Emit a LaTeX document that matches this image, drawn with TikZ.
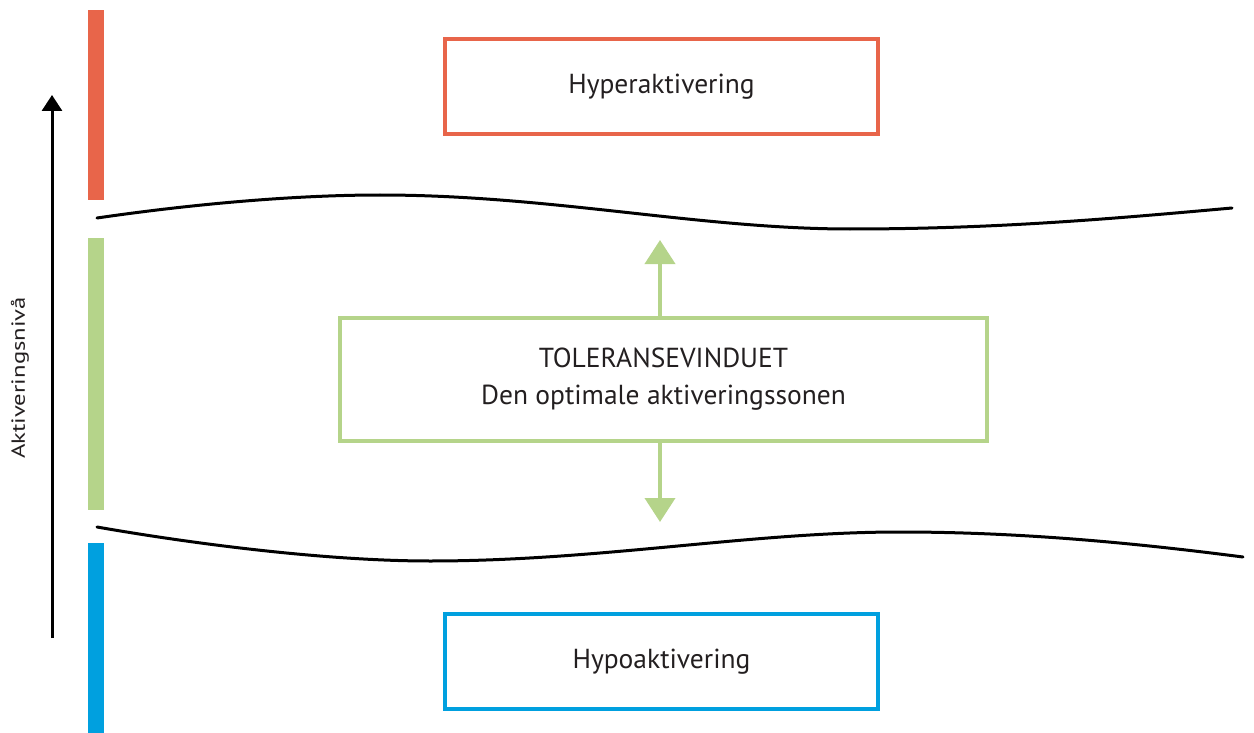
\documentclass[tikz,border=0pt]{standalone}
\usepackage{fontspec}
\usepackage{graphicx}
\setmainfont{PT Sans}
\usetikzlibrary{arrows.meta}
\definecolor{hyperred}{HTML}{E8654A}
\definecolor{tolgreen}{HTML}{B5D48A}
\definecolor{hypoblue}{HTML}{00A0DF}
\definecolor{txt}{HTML}{231F20}
\tikzset{
  zonebox/.style={draw, line width=4pt, minimum width=433pt, minimum height=95pt, text=txt, font=\fontsize{27.5}{33}\selectfont, inner sep=0pt},
  bar/.style={inner sep=0pt, minimum width=16pt},
  wave/.style={line width=3pt, line cap=round},
  greenarrow/.style={draw=tolgreen, line width=4pt, -{Triangle[width=30pt,length=24pt]}, color=tolgreen}
}
\begin{document}
\begin{tikzpicture}[x=1pt,y=-1pt]
\useasboundingbox (0,0) rectangle (1254,733);
% side bars
\node[bar, fill=hyperred, minimum height=190pt] (redbar) at (96,105) {};
\node[bar, fill=tolgreen, minimum height=272pt] (greenbar) at (96,374) {};
\node[bar, fill=hypoblue, minimum height=192pt] (bluebar) at (96,639) {};
% vertical axis arrow
\coordinate (axbot) at (52,638);
\coordinate (axtop) at (52,95);
\draw[line width=3pt, -{Triangle[width=20pt,length=16pt]}] (axbot) -- (axtop);
\node[rotate=90, text=txt, font=\fontsize{19}{22}\selectfont] (axlabel) at (20,378) {\scalebox{1.3}[1]{Aktiveringsnivå}};
% boxes
\node[zonebox, draw=hyperred] (hyper) at (661.5,86.5) {Hyperaktivering};
\node[zonebox, draw=hypoblue] (hypo) at (661.5,661.5) {Hypoaktivering};
\node[zonebox, draw=tolgreen, minimum width=647pt, minimum height=123pt, align=center] (tol) at (663.5,379.5)
  {TOLERANSEVINDUET\\[4pt]Den optimale aktiveringssonen};
% boundary curves
\draw[wave] (97,218) .. controls (200,203) and (300,195) .. (380,195)
  .. controls (550,195) and (700,229) .. (850,229)
  .. controls (1000,229) and (1120,218) .. (1232,208);
\draw[wave] (97,527) .. controls (200,545) and (330,561) .. (430,561)
  .. controls (600,561) and (750,532) .. (900,532)
  .. controls (1030,532) and (1150,545) .. (1243,557);
% green arrows
\coordinate (uptip) at (660,240);
\coordinate (downtip) at (660,522);
\draw[greenarrow] (tol.north -| uptip) -- (uptip);
\draw[greenarrow] (tol.south -| downtip) -- (downtip);
\end{tikzpicture}
\end{document}
